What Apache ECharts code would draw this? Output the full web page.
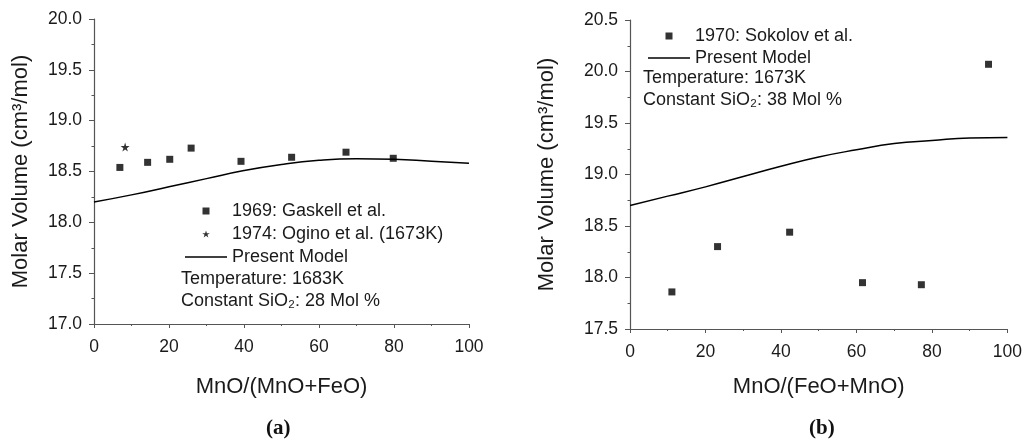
<!DOCTYPE html>
<html><head><meta charset="utf-8">
<script src="https://cdn.jsdelivr.net/npm/echarts@6/dist/echarts.min.js"></script>
<style>html,body{margin:0;padding:0;background:#fff}#c{width:1025px;height:439px}</style>
</head><body><div id="c"></div>
<script>
// ---- data ----
const xTicks = [0, 20, 40, 60, 80, 100];
const yTicksA = [17.0, 17.5, 18.0, 18.5, 19.0, 19.5, 20.0];
const yTicksB = [17.5, 18.0, 18.5, 19.0, 19.5, 20.0, 20.5];

const gaskellX = [6.9, 14.3, 20.2, 25.9, 39.2, 52.7, 67.2, 79.8];
const gaskellY = [18.54, 18.59, 18.62, 18.73, 18.60, 18.64, 18.69, 18.63];
const oginoX = [8.3];
const oginoY = [18.74];
const modelAX = [0, 10, 20, 30, 40, 50, 60, 70, 80, 90, 100];
const modelAY = [18.20, 18.27, 18.35, 18.43, 18.51, 18.57, 18.61, 18.625, 18.62, 18.60, 18.58];

const sokolovX = [11.1, 23.2, 42.3, 61.6, 77.2, 95.0];
const sokolovY = [17.86, 18.30, 18.44, 17.95, 17.93, 20.07];
const modelBX = [0, 10, 20, 30, 40, 50, 60, 70, 80, 90, 100];
const modelBY = [18.70, 18.79, 18.88, 18.98, 19.08, 19.17, 19.24, 19.30, 19.33, 19.355, 19.36];

const zip = (a, b) => a.map((v, i) => [v, b[i]]);

const FONT = '"Liberation Sans", Arial, "DejaVu Sans", sans-serif';
const TXT = '#1a1a1a';
const AX = '#555';
const STAR = 'path://M50,0L61.8,35.5L100,35.5L69.1,57.4L80.9,92.7L50,70.8L19.1,92.7L30.9,57.4L0,35.5L38.2,35.5Z';
const SQUARE = 'path://M0,0L10,0L10,10L0,10Z';
const HLINE = 'path://M0,0L42,0L42,1.5L0,1.5Z';

function xAxis(idx, name, gap) {
  return {
    gridIndex: idx, type: 'value', min: 0, max: 100, interval: 20,
    name: name, nameLocation: 'middle', nameGap: gap,
    nameTextStyle: { fontFamily: FONT, fontSize: 22, color: TXT },
    axisLine: { show: true, lineStyle: { color: AX, width: 1.2 } },
    axisTick: { show: true, inside: false, length: 4, lineStyle: { color: AX } },
    minorTick: { show: true, splitNumber: 2, length: 2, lineStyle: { color: AX } },
    splitLine: { show: false },
    axisLabel: { fontFamily: FONT, fontSize: 17.5, color: TXT, margin: 14 }
  };
}
function yAxis(idx, min, max, gap) {
  return {
    gridIndex: idx, type: 'value', min: min, max: max, interval: 0.5,
    name: 'Molar Volume (cm³/mol)', nameLocation: 'middle', nameGap: gap, nameRotate: 90,
    nameTextStyle: { fontFamily: FONT, fontSize: 22, color: TXT },
    axisLine: { show: true, lineStyle: { color: AX, width: 1.2 } },
    axisTick: { show: true, inside: false, length: 5, lineStyle: { color: AX } },
    minorTick: { show: true, splitNumber: 2, length: 2.5, lineStyle: { color: AX } },
    splitLine: { show: false },
    axisLabel: { fontFamily: FONT, fontSize: 17.5, color: TXT, margin: 12,
      formatter: v => v.toFixed(1) }
  };
}

const chart = echarts.init(document.getElementById('c'), null, { renderer: 'canvas' });
chart.setOption({
  backgroundColor: '#fff',
  animation: false,
  grid: [
    { left: 94, top: 19, width: 375, height: 305 },
    { left: 630, top: 20, width: 380, height: 309 }
  ],
  xAxis: [xAxis(0, 'MnO/(MnO+FeO)', 52), xAxis(1, 'MnO/(FeO+MnO)', 47)],
  yAxis: [yAxis(0, 17, 20, 62), yAxis(1, 17.5, 20.5, 72)],
  legend: [
    {
      orient: 'vertical', left: 180, top: 197, itemWidth: 42, itemHeight: 7, itemGap: 5,
      textStyle: { fontFamily: FONT, fontSize: 18, color: TXT, lineHeight: 18 },
      selectedMode: false,
      data: [
        { name: '1969: Gaskell et al.', icon: SQUARE },
        { name: '1974: Ogino et al. (1673K)', icon: STAR },
        { name: 'Present Model ', icon: HLINE }
      ]
    },
    {
      orient: 'vertical', left: 643, top: 22, itemWidth: 42, itemHeight: 7, itemGap: 4,
      textStyle: { fontFamily: FONT, fontSize: 18, color: TXT, lineHeight: 18 },
      selectedMode: false,
      data: [
        { name: '1970: Sokolov et al.', icon: SQUARE },
        { name: 'Present Model', icon: HLINE }
      ]
    }
  ],
  series: [
    { name: '1969: Gaskell et al.', type: 'scatter', xAxisIndex: 0, yAxisIndex: 0,
      symbol: 'rect', symbolSize: 7, itemStyle: { color: '#000' }, data: zip(gaskellX, gaskellY) },
    { name: '1974: Ogino et al. (1673K)', type: 'scatter', xAxisIndex: 0, yAxisIndex: 0,
      symbol: STAR, symbolSize: 9, itemStyle: { color: '#000' }, data: zip(oginoX, oginoY) },
    { name: 'Present Model ', type: 'line', xAxisIndex: 0, yAxisIndex: 0, smooth: true,
      symbol: 'none', lineStyle: { color: '#000', width: 1.5 }, itemStyle: { color: '#000' },
      data: zip(modelAX, modelAY) },
    { name: '1970: Sokolov et al.', type: 'scatter', xAxisIndex: 1, yAxisIndex: 1,
      symbol: 'rect', symbolSize: 7, itemStyle: { color: '#000' }, data: zip(sokolovX, sokolovY) },
    { name: 'Present Model', type: 'line', xAxisIndex: 1, yAxisIndex: 1, smooth: true,
      symbol: 'none', lineStyle: { color: '#000', width: 1.5 }, itemStyle: { color: '#000' },
      data: zip(modelBX, modelBY) }
  ],
  graphic: [
    { type: 'text', left: 181, top: 270, style: { text: 'Temperature: 1683K', font: '18px ' + FONT, fill: TXT } },
    { type: 'text', left: 181, top: 292, style: { text: 'Constant SiO₂: 28 Mol %', font: '18px ' + FONT, fill: TXT } },
    { type: 'text', left: 643, top: 69, style: { text: 'Temperature: 1673K', font: '18px ' + FONT, fill: TXT } },
    { type: 'text', left: 643, top: 91, style: { text: 'Constant SiO₂: 38 Mol %', font: '18px ' + FONT, fill: TXT } },
    { type: 'text', left: 266, top: 418, style: { text: '(a)', font: 'bold 21px "Liberation Serif", "Times New Roman", serif', fill: '#111' } },
    { type: 'text', left: 809, top: 418, style: { text: '(b)', font: 'bold 21px "Liberation Serif", "Times New Roman", serif', fill: '#111' } }
  ]
});
</script></body></html>
